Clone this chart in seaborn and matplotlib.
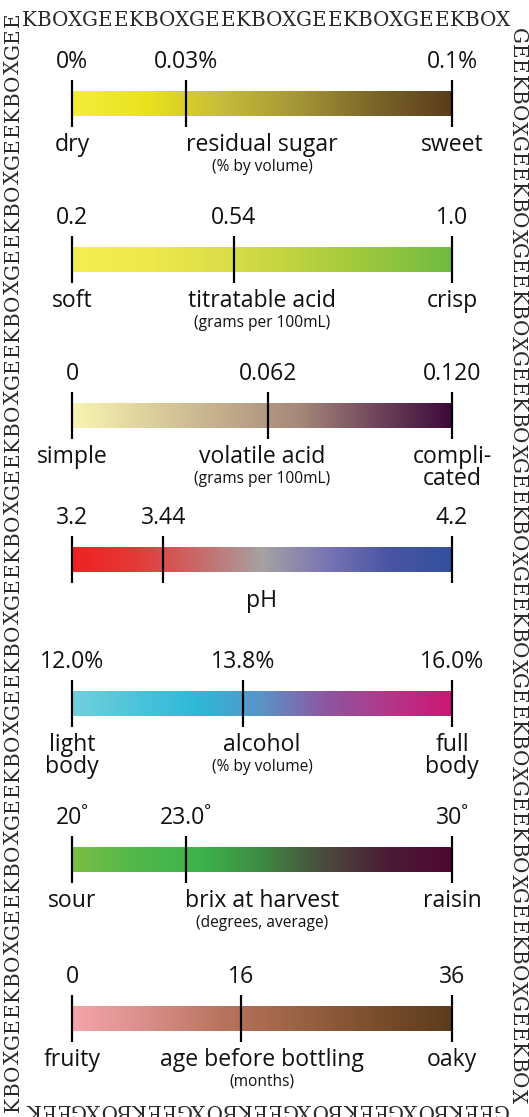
import numpy as np
import matplotlib.pyplot as plt
import seaborn as sns
from matplotlib.colors import LinearSegmentedColormap


# Data for the wine scales
names = ["residual sugar", "titratable acid", "volatile acid", "pH",
         "alcohol", "brix at harvest", "age before bottling"]
subtitles = ["(% by volume)", "(grams per 100mL)", "(grams per 100mL)", "",
             "(% by volume)", "(degrees, average)", "(months)"]
low_words = ["dry", "soft", "simple", "", "light\nbody", "sour", "fruity"]
high_words = ["sweet", "crisp", "compli-\ncated", "", "full\nbody", "raisin", "oaky"]

low_values = [0.0, 0.2, 0.0, 3.2, 12.0, 20.0, 0.0]
mid_values = [0.03, 0.54, 0.062, 3.44, 13.8, 23.0, 16.0]
high_values = [0.1, 1.0, 0.120, 4.2, 16.0, 30.0, 36.0]

low_labels = ["0%", "0.2", "0", "3.2", "12.0%", "20˚", "0"]
mid_labels = ["0.03%", "0.54", "0.062", "3.44", "13.8%", "23.0˚", "16"]
high_labels = ["0.1%", "1.0", "0.120", "4.2", "16.0%", "30˚", "36"]

gradients = [
    ["#f4ee3c", "#e8e21c", "#c6bb3a", "#a39536", "#7b6428", "#5a3d1b"],
    ["#f5ee52", "#eee94c", "#dbde48", "#bcd23e", "#98c63c", "#70bc44"],
    ["#f8f5b2", "#ddd09c", "#c2ad8c", "#a5887a", "#70465c", "#3d0a3a"],
    ["#ef2222", "#e23a36", "#c86a6a", "#a6a2a2", "#7a76b4", "#4a55a4", "#33509e"],
    ["#72d0dc", "#4cc4da", "#2eb8d8", "#5a93c6", "#8c57a0", "#b2378a", "#cd1674"],
    ["#7abf44", "#52b84c", "#3cb44a", "#3e8a44", "#4a4a3c", "#4a1c36", "#4e0832"],
    ["#f5a4aa", "#d88e88", "#b8735e", "#9a6244", "#7a4e2c", "#5c3c1e"],
]

# layout (pixel rows of the bar tops)
bar_tops = [91, 247, 403, 547, 691, 847, 1006]
W, H = 529, 1117
bar_left, bar_right, bar_h = 72, 452, 25

sns.set_style("white")
plt.rcParams['font.family'] = ['Open Sans', 'DejaVu Sans']

fig = plt.figure(figsize=(W / 72, H / 72), dpi=72)
fig.patch.set_facecolor("white")

big = 23
small = 15.5
ramp = np.linspace(0, 1, 400)[None, :]


def label(ax, text, x, yref, dy, size):
    for i, line in enumerate(text.split("\n")):
        ax.annotate(line, xy=(x, yref), xycoords=('data', 'axes fraction'),
                    xytext=(0, dy - i * 22), textcoords='offset points',
                    ha='center', va='baseline', fontsize=size, color='#111111',
                    annotation_clip=False)


for i in range(len(names)):
    lo, mid, hi = low_values[i], mid_values[i], high_values[i]
    ax = fig.add_axes([bar_left / W, 1 - (bar_tops[i] + bar_h) / H,
                       (bar_right - bar_left) / W, bar_h / H])
    cmap = LinearSegmentedColormap.from_list(names[i], gradients[i])
    ax.imshow(ramp, cmap=cmap, extent=[lo, hi, 0, 1], aspect='auto')
    ax.vlines([lo, mid, hi], -0.44, 1.44, color='black', lw=2.2, clip_on=False)
    ax.set_xlim(lo, hi)
    ax.set_ylim(0, 1)
    ax.axis('off')

    label(ax, low_labels[i], lo, 1, 23, big)
    label(ax, mid_labels[i], mid, 1, 23, big)
    label(ax, high_labels[i], hi, 1, 23, big)

    centre = (lo + hi) / 2
    label(ax, names[i], centre, 0, -35, big)
    if low_words[i]:
        label(ax, low_words[i], lo, 0, -35, big)
        label(ax, high_words[i], hi, 0, -35, big)
    if subtitles[i]:
        label(ax, subtitles[i], centre, 0, -55, small)


### Border of repeated letters
def border(text, x0, y0, x1, y1, rot):
    xs = np.linspace(x0, x1, len(text))
    ys = np.linspace(y0, y1, len(text))
    for ch, x, y in zip(text, xs, ys):
        fig.text(x / W, 1 - y / H, ch, rotation=rot, rotation_mode='anchor',
                 ha='center', va='center', fontsize=20, color='#2a2a2a',
                 family='DejaVu Serif')


border("KBOX" + "GEEKBOX" * 4, 29, 20, 503, 20, 0)
border("GEEKBOX" * 10, 517, 36, 517, 1096, -90)
border("GEEKBOX" * 4 + "GEEK", 500, 1109, 32, 1109, 180)
border("KBOXGEE" * 10, 13.5, 1104, 13.5, 20, 90)

fig.savefig("out.png", dpi=72, facecolor="white")
